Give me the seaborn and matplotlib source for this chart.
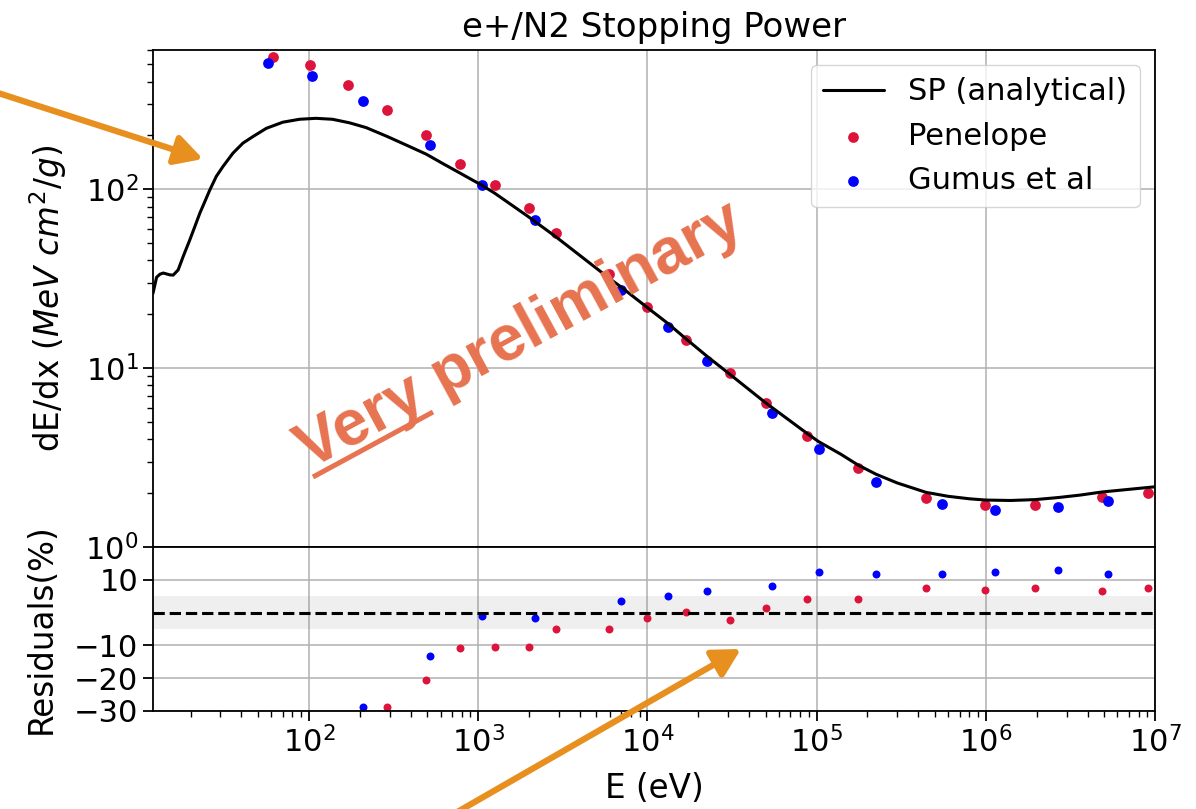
import numpy as np
import pandas as pd
import matplotlib
matplotlib.use("Agg")
import matplotlib.pyplot as plt
import seaborn as sns
from matplotlib.patches import FancyArrowPatch
from matplotlib.lines import Line2D

# ---------------- data ----------------
curve_E = [12.0, 12.6, 13.2, 13.8, 15.1, 15.8, 16.9, 18.1, 19.8, 21.2, 22.7, 24.3, 26.0,
           28.4, 31.1, 35.6, 40.8, 46.8, 56.1, 70.3, 88.1, 110, 138, 174, 218, 291,
           400, 494, 620, 783, 1057, 1254, 1600, 1991, 2897, 4000, 5976, 7031, 10000,
           13200, 16900, 22400, 30900, 50000, 70000, 88300, 103000, 140000, 175000,
           225000, 300000, 444000, 600000, 800000, 1.0e6, 1.4e6, 1.95e6, 2.68e6,
           3.6e6, 4.86e6, 7.0e6, 1.0e7]
curve_SP = [26.2, 32.2, 33.5, 34.0, 33.2, 33.1, 35.4, 42.1, 52.1, 61.8, 73.5, 85.3, 99.1,
            118, 134, 159, 181, 197, 219, 237, 246, 249, 246, 235, 221, 197,
            172, 157, 139, 123, 105, 95, 80.9, 70, 54, 42.6, 31.7, 28.3, 21.8,
            17.8, 14.6, 11.7, 9.2, 6.4, 5.06, 4.3, 3.88, 3.29, 2.88,
            2.55, 2.28, 2.02, 1.92, 1.86, 1.83, 1.82, 1.84, 1.89,
            1.95, 2.03, 2.10, 2.17]

pen_E = [61.4, 101, 171, 291, 494, 783, 1254, 1991, 2897, 5976, 10000, 16900,
         30900, 50000, 88300, 175000, 444000, 990000, 1.95e6, 4.86e6, 9.14e6]
pen_SP = [551, 497, 381, 276, 200, 138, 106, 78.3, 56.8, 33.4, 22.0, 14.4,
          9.38, 6.37, 4.15, 2.77, 1.89, 1.71, 1.71, 1.90, 2.00]
pen_res = [np.nan, np.nan, np.nan, -28.8, -20.7, -10.9, -10.5, -10.5, -5.1, -5.1, -1.6, 0.2,
           -2.2, 1.3, 4.1, 4.1, 7.5, 7.0, 7.5, 6.6, 7.5]

gum_E = [57.3, 104, 208, 517, 1057, 2160, 7031, 13200, 22400, 54800, 103000,
         225000, 552000, 1.13e6, 2.68e6, 5.30e6]
gum_SP = [506, 430, 311, 176, 106, 67.4, 27.3, 16.9, 11.0, 5.62, 3.54,
          2.31, 1.75, 1.60, 1.67, 1.81]
gum_res = [np.nan, np.nan, -28.8, -13.3, -0.9, -1.7, 3.6, 5.1, 6.6, 8.0, 12.4,
           11.9, 11.9, 12.4, 12.9, 11.9]

res_ticks = [-30, -20, -10, 10]

curve_df = pd.DataFrame({"E": curve_E, "SP": curve_SP})
pen_df = pd.DataFrame({"E": pen_E, "SP": pen_SP, "res": pen_res})
gum_df = pd.DataFrame({"E": gum_E, "SP": gum_SP, "res": gum_res})

# ---------------- style ----------------
sns.set_theme(style="ticks", rc={
    "axes.edgecolor": "black", "axes.linewidth": 1.3,
    "xtick.color": "black", "ytick.color": "black",
    "xtick.major.size": 7, "xtick.minor.size": 4,
    "ytick.major.size": 7, "ytick.minor.size": 4,
    "xtick.major.width": 1.3, "xtick.minor.width": 1.0,
    "ytick.major.width": 1.3, "ytick.minor.width": 1.0,
    "grid.color": "#b0b0b0", "grid.linewidth": 1.1,
    "text.color": "black", "axes.labelcolor": "black",
    "font.size": 22, "axes.labelsize": 23.5, "xtick.labelsize": 22,
    "ytick.labelsize": 22, "legend.fontsize": 22, "axes.titlesize": 24.5,
})
plt.rcParams["font.family"] = ["DejaVu Sans"]

W, H = 1196, 809
fig = plt.figure(figsize=(W / 100, H / 100), dpi=100)
ax1 = fig.add_axes([153 / W, 1 - 547 / H, (1155 - 153) / W, (547 - 50) / H])
ax2 = fig.add_axes([153 / W, 1 - 711 / H, (1155 - 153) / W, (711 - 547) / H], sharex=ax1)

# ---------------- top panel ----------------
sns.lineplot(data=curve_df, x="E", y="SP", ax=ax1, color="black", lw=2.2,
             label="SP (analytical)", sort=False)
sns.scatterplot(data=pen_df, x="E", y="SP", ax=ax1, color="crimson", s=60,
                linewidth=0, label="Penelope")
sns.scatterplot(data=gum_df, x="E", y="SP", ax=ax1, color="blue", s=60,
                linewidth=0, label="Gumus et al")
ax1.set_xscale("log")
ax1.set_yscale("log")
ax1.set_xlim(12, 1e7)
ax1.set_ylim(1, 600)
ax1.grid(True, which="major")
ax1.tick_params(axis="x", which="both", bottom=False, labelbottom=False)
ax1.set_xlabel("")
ax1.set_ylabel(r"dE/dx $(MeV\ cm^2/g)$", labelpad=12)
ax1.set_title("e+/N2 Stopping Power", pad=9)
ax1.legend(loc="upper right", frameon=True, framealpha=0.8,
           edgecolor="0.8", fancybox=True)

# ---------------- residual panel ----------------
ax2.axhspan(-5, 5, color="gray", alpha=0.12, lw=0)
ax2.axhline(0, color="black", ls="--", lw=2.2)
sns.scatterplot(data=pen_df, x="E", y="res", ax=ax2, color="crimson", s=33,
                linewidth=0, legend=False)
sns.scatterplot(data=gum_df, x="E", y="res", ax=ax2, color="blue", s=33,
                linewidth=0, legend=False)
ax2.set_xscale("log")
ax2.set_xlim(12, 1e7)
ax2.set_ylim(-30, 20)
ax2.set_yticks(res_ticks)
ax2.grid(True, which="major")
ax2.set_xlabel("E (eV)", labelpad=10)
ax2.set_ylabel("Residuals(%)", labelpad=12)

# ---------------- overlay annotations ----------------
def fpos(x, y):
    return (x / W, 1 - y / H)

orange = "#E8901F"
for tail, head in [((-5, 92), (203, 159)), ((452, 815), (741, 649))]:
    arr = FancyArrowPatch(fpos(*tail), fpos(*head), transform=fig.transFigure,
                          arrowstyle="-|>,head_length=0.55,head_width=0.3",
                          mutation_scale=30, lw=4.5, color=orange,
                          shrinkA=0, shrinkB=0)
    fig.add_artist(arr)

salmon = "#E77350"
cx, cy = fpos(520, 336)
fig.text(cx, cy, "Very preliminary", rotation=28.5, rotation_mode="anchor",
         ha="center", va="center", fontsize=46, fontweight="bold",
         family=["Liberation Sans", "DejaVu Sans"], color=salmon)
x0, y0 = fpos(313, 477)
x1, y1 = fpos(433, 412)
fig.add_artist(Line2D([x0, x1], [y0, y1], transform=fig.transFigure,
                      color=salmon, lw=3.6, solid_capstyle="butt"))

fig.savefig("out.png", dpi=100)
